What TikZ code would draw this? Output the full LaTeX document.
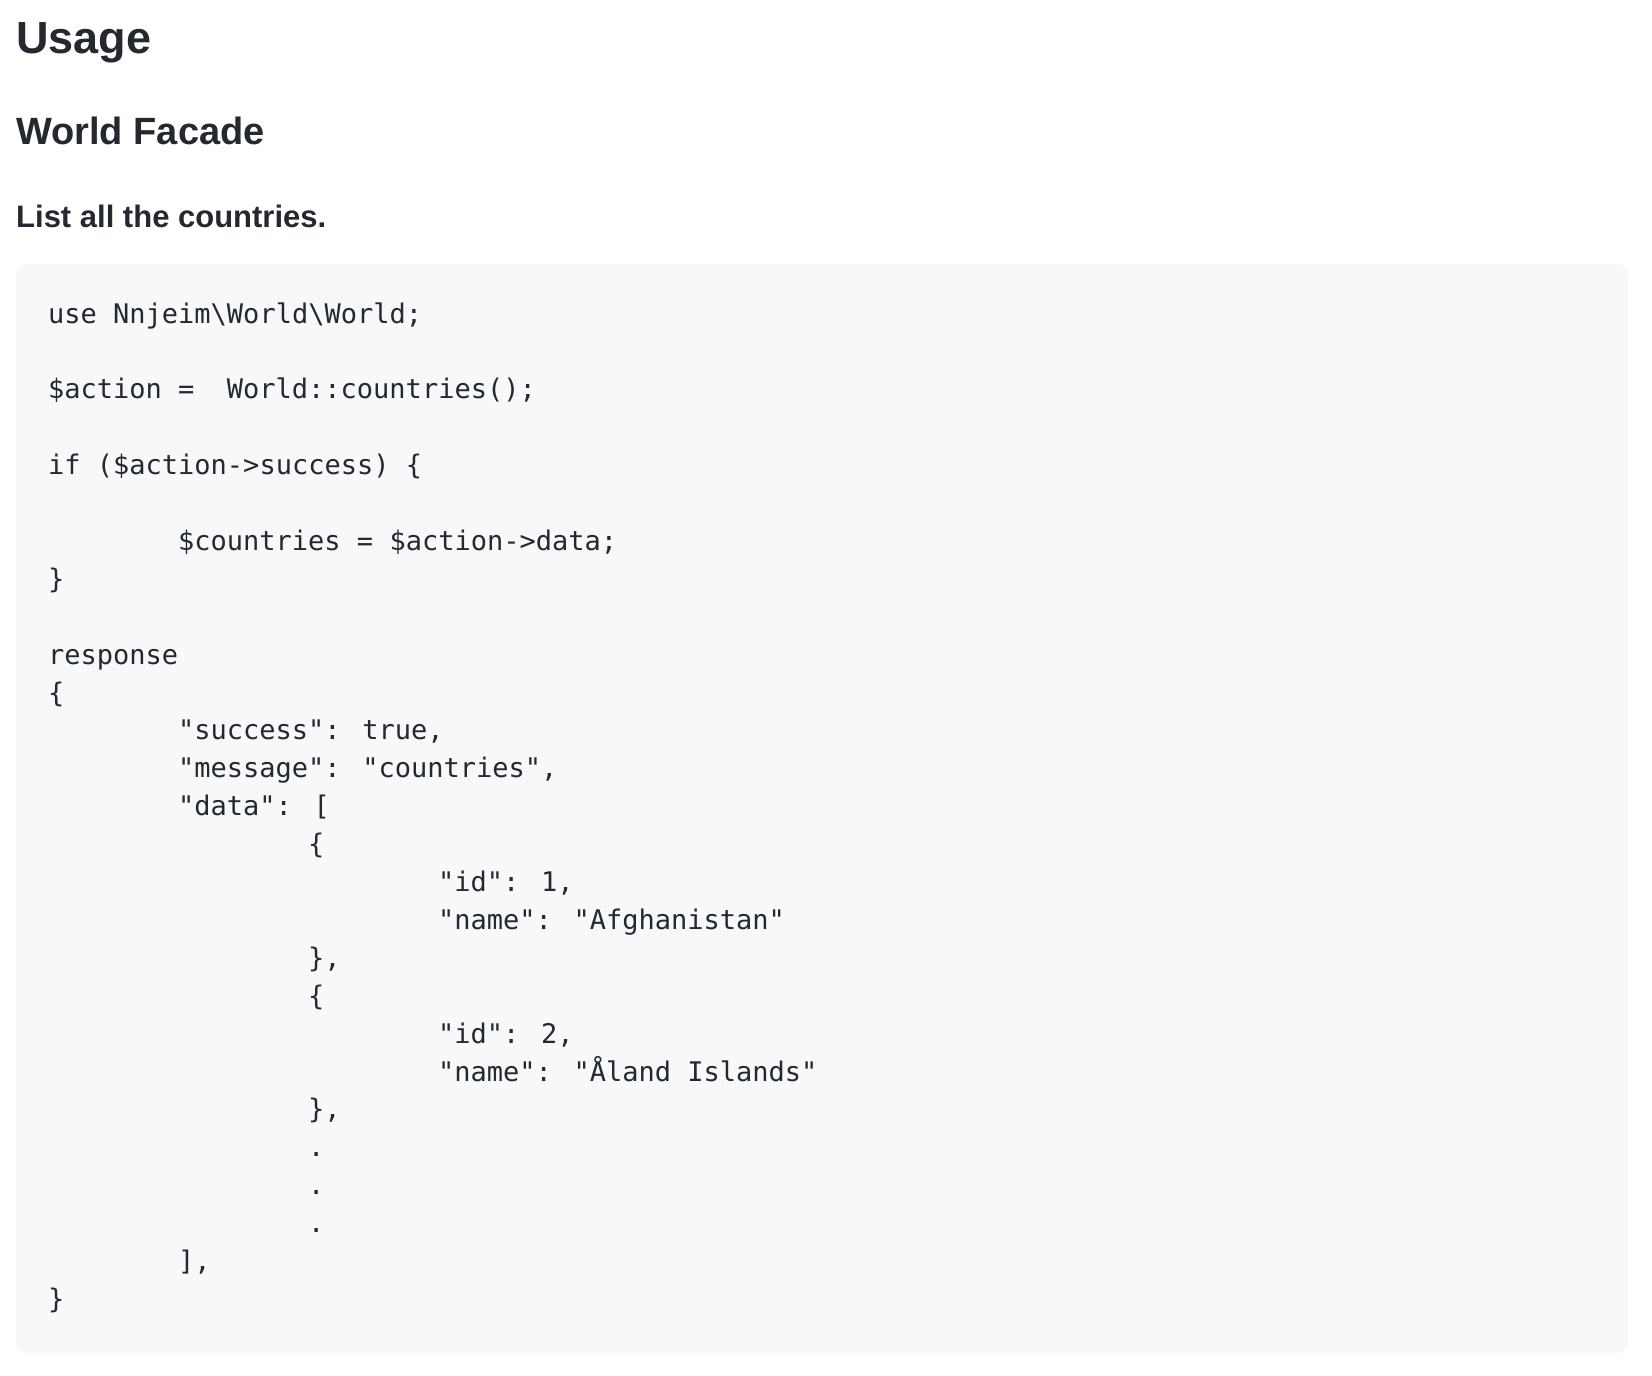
\documentclass[tikz,border=0pt]{standalone}
\usepackage{fontspec}
\setmainfont{Liberation Sans}
\newfontfamily\codef{DejaVu Sans Mono}
\definecolor{txt}{HTML}{24292F}
\definecolor{codebg}{HTML}{F6F8FA}
\begin{document}
\begin{tikzpicture}[x=1pt,y=-1pt,
  hd/.style={anchor=base west,inner sep=0pt,text=txt,font=\bfseries},
  cl/.style={anchor=base west,inner sep=0pt,text=txt,font=\codef\fontsize{27}{32}\selectfont}]
\useasboundingbox (0,0) rectangle (1652,1376);
\fill[white] (0,0) rectangle (1652,1376);
\node[hd,font=\bfseries\fontsize{45}{50}\selectfont] (h1) at (16,53) {Usage};
\node[hd,font=\bfseries\fontsize{38}{44}\selectfont] (h2) at (16,144) {World Facade};
\node[hd,font=\bfseries\fontsize{31}{36}\selectfont] (h3) at (16,227) {List all the countries.};
\fill[codebg,rounded corners=12pt] (16,264) rectangle (1628,1353);
\def\C#1#2#3{\node[cl] (l#1c#2) at ({48+16.25*#2},{323+37.9*#1}) {#3};}
\C{0}{0}{use Nnjeim\textbackslash World\textbackslash World;}
\C{2}{0}{\$action =}
\C{2}{11}{World::countries();}
\C{4}{0}{if (\$action->success) \{}
\C{6}{8}{\$countries = \$action->data;}
\C{7}{0}{\}}
\C{9}{0}{response}
\C{10}{0}{\{}
\C{11}{8}{"success": true,}
\C{12}{8}{"message": "countries",}
\C{13}{8}{"data": [}
\C{14}{16}{\{}
\C{15}{24}{"id": 1,}
\C{16}{24}{"name": "Afghanistan"}
\C{17}{16}{\},}
\C{18}{16}{\{}
\C{19}{24}{"id": 2,}
\C{20}{24}{"name": "Åland Islands"}
\C{21}{16}{\},}
\C{22}{16}{.}
\C{23}{16}{.}
\C{24}{16}{.}
\C{25}{8}{],}
\C{26}{0}{\}}
\end{tikzpicture}
\end{document}
